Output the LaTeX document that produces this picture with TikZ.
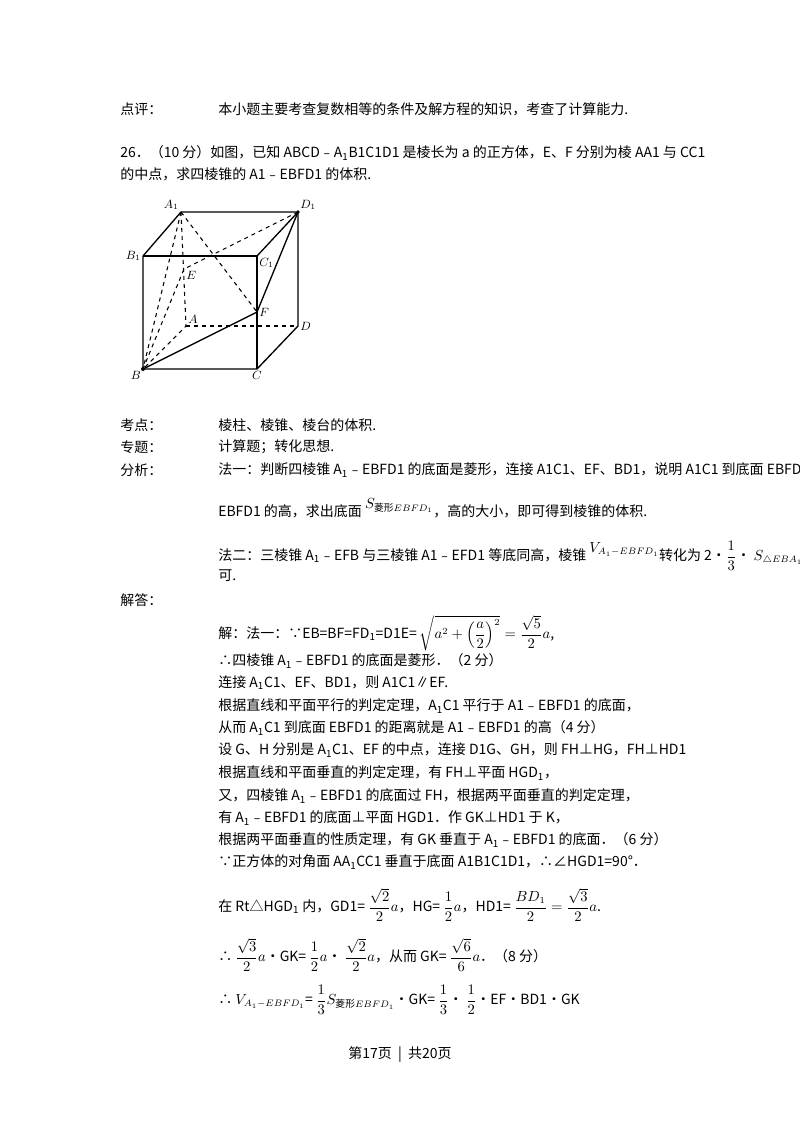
\documentclass[tikz,border=0pt]{standalone}
\usepackage{fontspec}
\usepackage{amsmath}
\setmainfont{Noto Sans CJK SC}
\begin{document}
\begin{tikzpicture}[x=0.75pt,y=-0.75pt,
  t/.style={anchor=west,inner sep=0pt,font=\fontsize{10.5}{12}\selectfont},
  lab/.style={inner sep=1.5pt,font=\fontsize{9}{10}\selectfont},
  edge/.style={line width=1pt},
  hid/.style={line width=0.8pt,dashed}]
\fill[white] (0,0) rectangle (800,1133);
\useasboundingbox (0,0) rectangle (800,1133);
\clip (0,0) rectangle (800,1133);
\node[t] (l1a) at (120,109) {点评：};
\node[t] (l1b) at (218,109) {本小题主要考查复数相等的条件及解方程的知识，考查了计算能力.};
\node[t] (l2) at (120,153) {26．（10 分）如图，已知 ABCD﹣A\textsubscript{1}B1C1D1 是棱长为 a 的正方体，E、F 分别为棱 AA1 与 CC1};
\node[t] (l3) at (120,174) {的中点，求四棱锥的 A1﹣EBFD1 的体积.};
% cube
\coordinate (A1) at (181,212); \coordinate (D1) at (298,212);
\coordinate (B1) at (143,256); \coordinate (C1) at (257,256);
\coordinate (B) at (143,369); \coordinate (C) at (257,369);
\coordinate (A) at (186,326); \coordinate (D) at (298,326);
\coordinate (E) at (184,269); \coordinate (F) at (257,312);
\draw[edge] (A1)--(D1)--(D)--(C)--(B)--(B1)--(A1);
\draw[edge] (B1)--(C1)--(C); \draw[edge] (C1)--(D1);
\draw[edge] (B)--(F)--(D1);
\draw[hid] (A1)--(A)--(B); \draw[hid] (A)--(D);
\draw[hid] (A1)--(B); \draw[hid] (A1)--(F);
\draw[hid] (D1)--(E)--(B);
\fill (B) circle (2); \fill (D1) circle (1.8);
\node[lab,anchor=south east] (nA1) at (A1) {$A_1$};
\node[lab,anchor=south west] (nD1) at (D1) {$D_1$};
\node[lab,anchor=east] (nB1) at (B1) {$B_1$};
\node[lab,anchor=north west] (nC1) at (C1) {$C_1$};
\node[lab,anchor=north east] (nB) at (B) {$B$};
\node[lab,anchor=north] (nC) at (C) {$C$};
\node[lab,anchor=west] (nD) at (D) {$D$};
\node[lab,anchor=south west] (nA) at (A) {$A$};
\node[lab,anchor=north west] (nE) at (E) {$E$};
\node[lab,anchor=west] (nF) at (F) {$F$};
% analysis
\node[t] (k1) at (120,425) {考点：}; \node[t] (k2) at (218,425) {棱柱、棱锥、棱台的体积.};
\node[t] (z1) at (120,447) {专题：}; \node[t] (z2) at (218,447) {计算题；转化思想.};
\node[t] (f1) at (120,470) {分析：};
\node[t] (f2) at (218,470) {法一：判断四棱锥 A\textsubscript{1}﹣EBFD1 的底面是菱形，连接 A1C1、EF、BD1，说明 A1C1 到底面 EBFD1 的距离就是};
\node[t] (f3) at (218,508) {EBFD1 的高，求出底面 \raisebox{6pt}{$S_{\text{菱形}EBFD_1}$}，高的大小，即可得到棱锥的体积.};
\node[t] (f4) at (218,556) {法二：三棱锥 A\textsubscript{1}﹣EFB 与三棱锥 A1﹣EFD1 等底同高，棱锥 \raisebox{6pt}{$V_{A_1-EBFD_1}$}转化为 2•$\dfrac{1}{3}$• $S_{\triangle EBA_1}$，即};
\node[t] (f5) at (218,576) {可.};
\node[t] (j1) at (120,600) {解答：};
\node[t] (j2) at (218,633) {解：法一：∵EB=BF=FD\textsubscript{1}=D1E= $\sqrt{a^2+\left(\dfrac{a}{2}\right)^2}=\dfrac{\sqrt5}{2}a$,};
\node[t] (j3) at (218,661) {∴四棱锥 A\textsubscript{1}﹣EBFD1 的底面是菱形．（2 分）};
\node[t] (j4) at (218,683) {连接 A\textsubscript{1}C1、EF、BD1，则 A1C1∥EF.};
\node[t] (j5) at (218,706) {根据直线和平面平行的判定定理，A\textsubscript{1}C1 平行于 A1﹣EBFD1 的底面，};
\node[t] (j6) at (218,728) {从而 A\textsubscript{1}C1 到底面 EBFD1 的距离就是 A1﹣EBFD1 的高（4 分）};
\node[t] (j7) at (218,750) {设 G、H 分别是 A\textsubscript{1}C1、EF 的中点，连接 D1G、GH，则 FH⊥HG，FH⊥HD1};
\node[t] (j8) at (218,773) {根据直线和平面垂直的判定定理，有 FH⊥平面 HGD\textsubscript{1}，};
\node[t] (j9) at (218,796) {又，四棱锥 A\textsubscript{1}﹣EBFD1 的底面过 FH，根据两平面垂直的判定定理，};
\node[t] (j10) at (218,818) {有 A\textsubscript{1}﹣EBFD1 的底面⊥平面 HGD1．作 GK⊥HD1 于 K，};
\node[t] (j11) at (218,840) {根据两平面垂直的性质定理，有 GK 垂直于 A\textsubscript{1}﹣EBFD1 的底面．（6 分）};
\node[t] (j12) at (218,862) {∵正方体的对角面 AA\textsubscript{1}CC1 垂直于底面 A1B1C1D1，∴∠HGD1=90°．};
\node[t] (j13) at (218,905) {在 Rt△HGD\textsubscript{1} 内，GD1= $\dfrac{\sqrt2}{2}a$，HG= $\dfrac{1}{2}a$，HD1= $\dfrac{BD_1}{2}=\dfrac{\sqrt3}{2}a$.};
\node[t] (j14) at (218,955) {∴ $\dfrac{\sqrt3}{2}a$•GK= $\dfrac{1}{2}a$• $\dfrac{\sqrt2}{2}a$，从而 GK= $\dfrac{\sqrt6}{6}a$．（8 分）};
\node[t] (j15) at (218,1000) {∴ $V_{A_1-EBFD_1}$= $\dfrac{1}{3}S_{\text{菱形}EBFD_1}$•GK= $\dfrac{1}{3}$• $\dfrac{1}{2}$•EF•BD1•GK};
\node[t,anchor=center] (pg) at (400,1055) {第17页 \ | \ 共20页};
\end{tikzpicture}
\end{document}
